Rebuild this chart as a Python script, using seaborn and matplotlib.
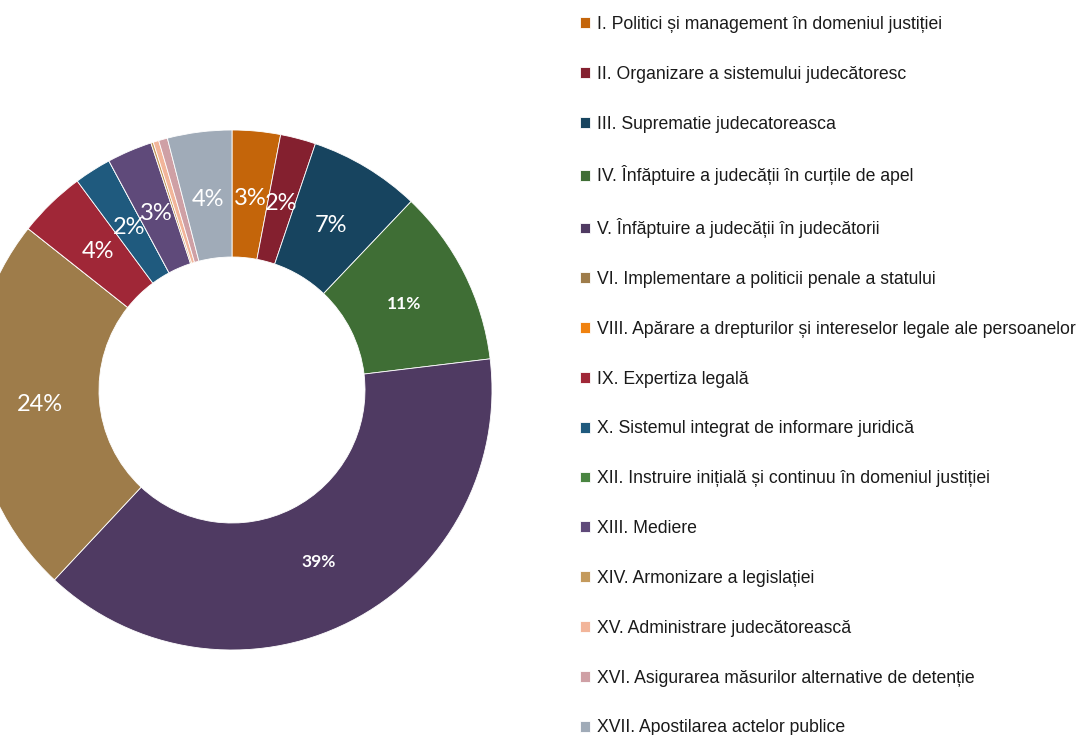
import matplotlib
matplotlib.use("Agg")
import matplotlib.pyplot as plt
import seaborn as sns

# categories in the order they appear in the legend / clockwise from 12 o'clock
categories = [
    "I. Politici și management în domeniul justiției",
    "II. Organizare a sistemului judecătoresc",
    "III. Suprematie judecatoreasca",
    "IV. Înfăptuire a judecății în curțile de apel",
    "V. Înfăptuire a judecății în judecătorii",
    "VI. Implementare a politicii penale a statului",
    "VIII. Apărare a drepturilor și intereselor legale ale persoanelor",
    "IX. Expertiza legală",
    "X. Sistemul integrat de informare juridică",
    "XII. Instruire inițială și continuu în domeniul justiției",
    "XIII. Mediere",
    "XIV. Armonizare a legislației",
    "XV. Administrare judecătorească",
    "XVI. Asigurarea măsurilor alternative de detenție",
    "XVII. Apostilarea actelor publice",
]
shares = [3.0, 2.2, 6.9, 11.0, 38.9, 23.7, 0.0, 4.2, 2.3, 0.0, 2.8, 0.15, 0.35, 0.55, 4.0]
colors = ["#C4650A", "#84202F", "#17445F", "#3F6E35", "#4F3A62", "#9E7C4A", "#F0820F",
          "#A02737", "#1F5A7E", "#4A8541", "#5F4A7A", "#C49A5C", "#F2B59A", "#CFA0A5", "#A0ABB8"]
bold_labels = [3, 4]  # the 11% and 39% labels are smaller and bold

sns.set_style("white")
plt.rcParams["font.family"] = ["Liberation Sans", "DejaVu Sans"]

fig = plt.figure(figsize=(10.82, 7.35), dpi=100)
ax = fig.add_axes([12 / 1082, 0, 1 - 12 / 1082, 1])

def pct_label(p):
    return f"{p:.0f}%" if p >= 1 else ""

wedges, texts, autotexts = ax.pie(
    shares, colors=colors, startangle=90, counterclock=False,
    center=(232, 345), radius=260, autopct=pct_label, pctdistance=0.74,
    wedgeprops=dict(width=127, edgecolor="white", linewidth=0.6),
)
for i, t in enumerate(autotexts):
    t.set_color("white")
    t.set_family("Lato")
    if i in bold_labels:
        t.set_fontsize(12.5)
        t.set_fontweight("bold")
    else:
        t.set_fontsize(17)

ax.set_xlim(12, 1082)
ax.set_ylim(0, 735)
ax.set_aspect("equal")
ax.axis("off")

fig.legend(
    wedges, categories, loc="upper left", bbox_to_anchor=(580 / 1082, 719 / 735),
    frameon=False, borderpad=0, borderaxespad=0, labelcolor="#1a1a1a",
    prop={"family": "Liberation Sans", "size": 12.7},
    handlelength=0.57, handleheight=0.57, handletextpad=0.38, labelspacing=1.86,
)

fig.savefig("out.png", dpi=100)
